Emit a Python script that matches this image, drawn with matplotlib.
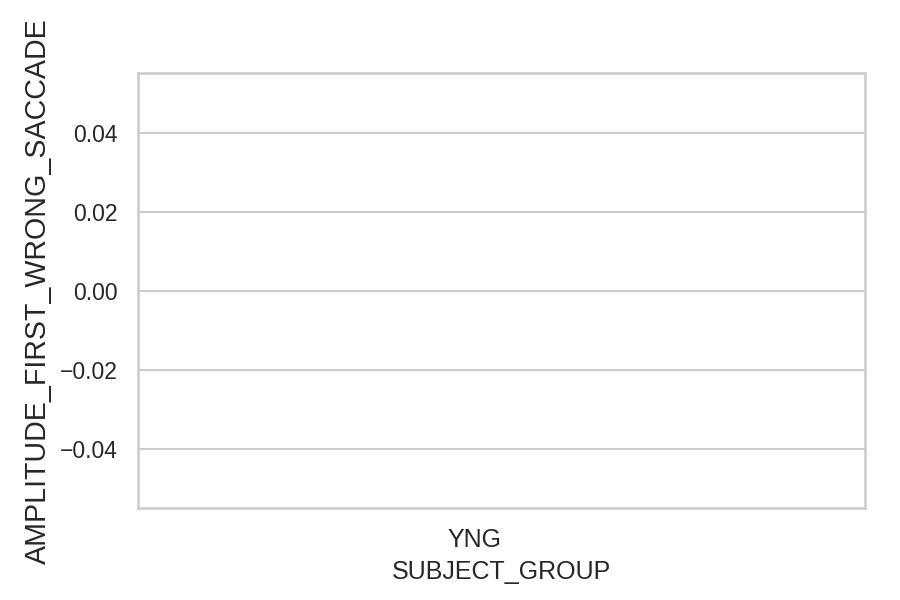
import numpy as np
import matplotlib
matplotlib.use("Agg")
import matplotlib.pyplot as plt
import seaborn as sns

sns.set_theme(style="whitegrid")
plt.rcParams['font.family'] = ['Liberation Sans', 'DejaVu Sans']

categories = ["YNG"]
values = [np.nan]

fig = plt.figure(figsize=(6, 4), dpi=150)
ax = fig.add_axes([0.153, 0.153, 0.808, 0.725])
ax.bar(categories, values, color="#4c72b0")
ax.set_xlim(-0.4636, 0.5364)
ax.set_ylim(-0.055, 0.055)
ax.set_yticks([-0.04, -0.02, 0.0, 0.02, 0.04])
ax.set_yticklabels(["\u22120.04", "\u22120.02", "0.00", "0.02", "0.04"])
ax.tick_params(axis='y', labelsize=11)
ax.tick_params(axis='x', labelsize=12)
ax.set_xlabel("SUBJECT_GROUP", fontsize=12)
ax.set_ylabel("AMPLITUDE_FIRST_WRONG_SACCADE", fontsize=13.75)
ax.grid(axis='x', visible=False)
fig.savefig("out.png", dpi=150)
